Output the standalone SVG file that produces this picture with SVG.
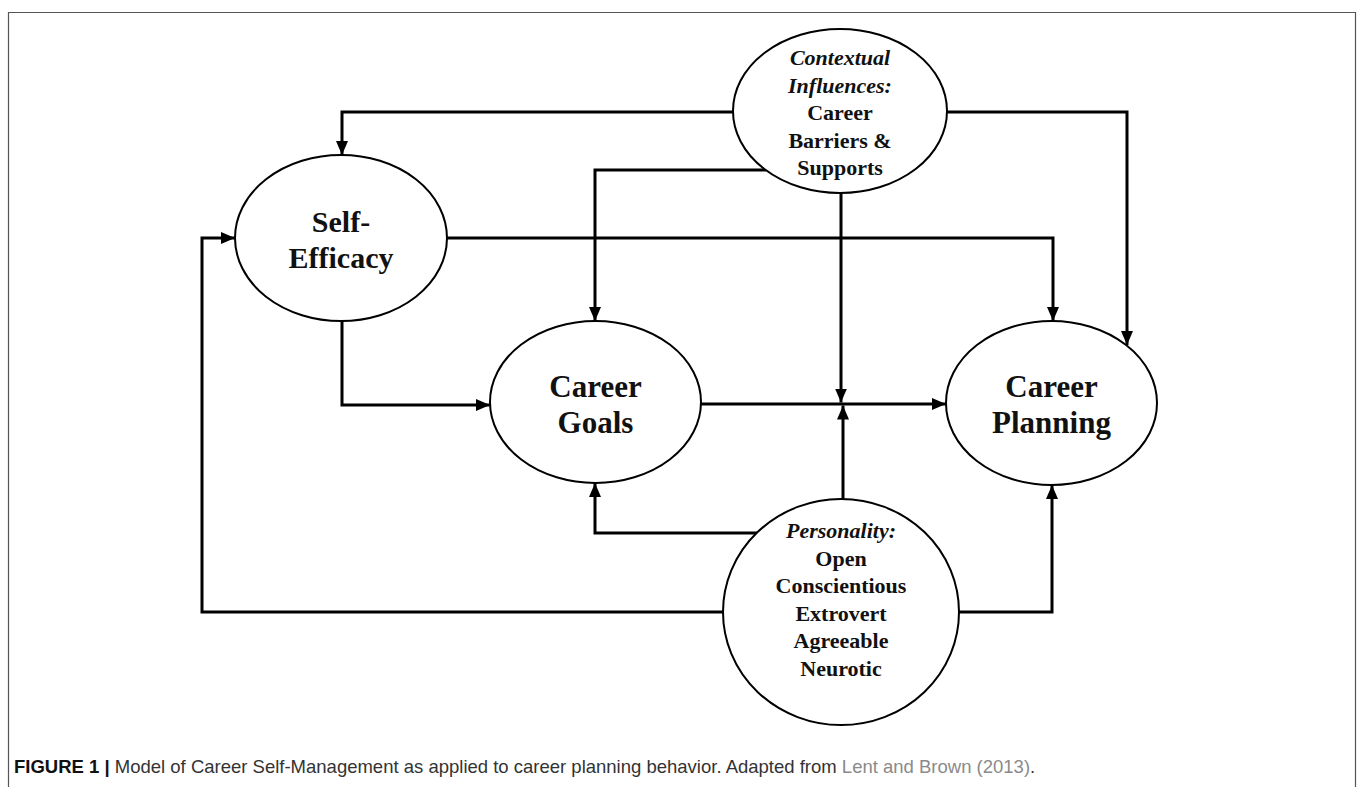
<svg xmlns="http://www.w3.org/2000/svg" width="1357" height="787" viewBox="0 0 1357 787">
<defs>
<style>
.node ellipse{fill:#fff;stroke:#000;stroke-width:2}
.lbl{font-family:"Liberation Serif","Times New Roman",serif;font-weight:bold;fill:#111;text-anchor:middle}
.it{font-style:italic}
.conn path{fill:none;stroke:#000;stroke-width:3;marker-end:url(#ah)}
.cap{font-family:"Liberation Sans",Arial,sans-serif;font-size:18.5px;fill:#333}
</style>
<marker id="ah" markerUnits="userSpaceOnUse" markerWidth="14" markerHeight="12" viewBox="0 0 14 12" refX="14" refY="6" orient="auto">
<path d="M0,0 L14,6 L0,12 Z" fill="#000"/>
</marker>
</defs>
<rect x="0" y="0" width="1357" height="787" fill="#fff"/>
<path d="M8.5,800 V12.5 H1355.5 V800" fill="none" stroke="#555" stroke-width="1.2"/>

<g class="conn">
<path d="M733,112 H342 V155"/>
<path d="M766,170 H595 V321"/>
<path d="M947,112 H1127 V345"/>
<path d="M841,193 V402.5"/>
<path d="M447,238 H1053 V321"/>
<path d="M342,321 V405 H490"/>
<path d="M701,404 H946"/>
<path d="M843,499 V405.5"/>
<path d="M757,533 H595 V483"/>
<path d="M723,612 H202 V238 H235"/>
<path d="M959,612 H1052 V485"/>
</g>

<g id="contextual" class="node">
<ellipse cx="840" cy="111" rx="107" ry="82"/>
<text class="lbl" font-size="22"><tspan class="it" x="840" y="65">Contextual</tspan><tspan class="it" x="840" y="92.5">Influences:</tspan><tspan x="840" y="120">Career</tspan><tspan x="840" y="147.5">Barriers &amp;</tspan><tspan x="840" y="175">Supports</tspan></text>
</g>
<g id="self-efficacy" class="node">
<ellipse cx="341" cy="238" rx="106" ry="83"/>
<text class="lbl" font-size="30"><tspan x="341" y="232">Self-</tspan><tspan x="341" y="268">Efficacy</tspan></text>
</g>
<g id="career-goals" class="node">
<ellipse cx="595.5" cy="402" rx="105.5" ry="81"/>
<text class="lbl" font-size="31"><tspan x="595.5" y="397">Career</tspan><tspan x="595.5" y="433">Goals</tspan></text>
</g>
<g id="career-planning" class="node">
<ellipse cx="1051.5" cy="403" rx="105.5" ry="82"/>
<text class="lbl" font-size="31"><tspan x="1051.5" y="397">Career</tspan><tspan x="1051.5" y="433">Planning</tspan></text>
</g>
<g id="personality" class="node">
<ellipse cx="841" cy="612" rx="118" ry="113"/>
<text class="lbl" font-size="22"><tspan class="it" x="841" y="538">Personality:</tspan><tspan x="841" y="565.5">Open</tspan><tspan x="841" y="593">Conscientious</tspan><tspan x="841" y="620.5">Extrovert</tspan><tspan x="841" y="648">Agreeable</tspan><tspan x="841" y="675.5">Neurotic</tspan></text>
</g>

<text class="cap" x="14" y="773"><tspan font-weight="bold" fill="#111">FIGURE 1 |</tspan> Model of Career Self-Management as applied to career planning behavior. Adapted from <tspan fill="#8a8a8a">Lent and Brown (2013)</tspan>.</text>
</svg>
